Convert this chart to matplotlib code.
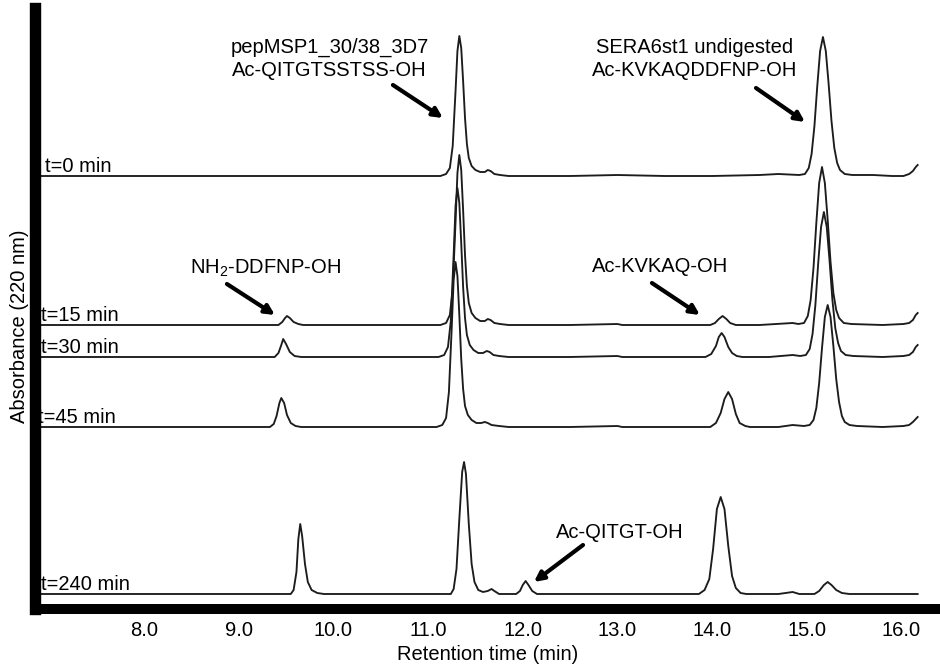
import numpy as np
import matplotlib
matplotlib.use("Agg")
import matplotlib.pyplot as plt

plt.rcParams['font.family'] = ['Liberation Sans', 'DejaVu Sans']
plt.rcParams['mathtext.fontset'] = 'custom'
plt.rcParams['mathtext.rm'] = 'Liberation Sans'

# retention time (min), absorbance above each trace's own baseline (arb. units)
trace_0min = [
    (6.92, 0), (8.0, 0), (9.5, 0), (10.5, 0), (11.13, 0), (11.19, 2), (11.23, 8), (11.26, 30),
    (11.29, 85), (11.31, 125), (11.33, 140), (11.35, 128), (11.37, 95), (11.39, 58), (11.41, 32),
    (11.43, 18), (11.46, 10), (11.50, 6), (11.55, 4), (11.60, 4), (11.63, 6), (11.66, 5),
    (11.70, 2), (11.76, 1), (11.85, 0), (12.5, 0), (13.0, 1), (13.5, 0), (14.0, 0), (14.5, 1),
    (14.7, 2), (14.92, 1), (14.98, 2), (15.02, 8), (15.05, 22), (15.08, 50), (15.11, 90),
    (15.14, 125), (15.17, 139), (15.20, 125), (15.23, 92), (15.26, 55), (15.29, 28), (15.32, 13),
    (15.35, 6), (15.40, 2), (15.48, 1), (15.7, 1), (15.9, 0), (16.02, 0), (16.08, 2), (16.12, 5),
    (16.15, 9), (16.17, 11),
]
trace_15min = [
    (6.92, 0), (8.0, 0), (9.0, 0), (9.42, 0), (9.46, 3), (9.49, 7), (9.51, 9), (9.54, 7),
    (9.58, 3), (9.63, 1), (9.68, 0), (10.5, 0), (11.13, 0), (11.19, 2), (11.23, 10), (11.26, 36),
    (11.29, 103), (11.31, 152), (11.33, 170), (11.35, 155), (11.37, 115), (11.39, 70), (11.41, 39),
    (11.43, 22), (11.46, 12), (11.50, 7), (11.55, 4), (11.60, 4), (11.63, 6), (11.66, 5),
    (11.70, 2), (11.76, 1), (11.85, 0), (12.5, 0), (13.0, 1), (13.05, 0), (13.5, 0), (13.98, 0),
    (14.03, 2), (14.07, 6), (14.11, 9), (14.15, 6), (14.19, 2), (14.25, 0), (14.5, 0), (14.85, 2),
    (14.91, 1), (14.97, 2), (15.01, 9), (15.04, 25), (15.07, 57), (15.10, 102), (15.13, 142),
    (15.16, 158), (15.19, 142), (15.22, 105), (15.25, 63), (15.28, 32), (15.31, 15), (15.34, 7),
    (15.39, 2), (15.47, 1), (15.8, 0), (16.02, 1), (16.08, 2), (16.12, 5), (16.15, 10), (16.17, 12),
]
trace_30min = [
    (6.92, 0), (8.0, 0), (9.0, 0), (9.38, 0), (9.42, 4), (9.45, 12), (9.47, 18), (9.50, 13),
    (9.54, 5), (9.59, 1), (9.66, 0), (10.5, 0), (11.11, 0), (11.17, 2), (11.21, 10), (11.24, 36),
    (11.27, 102), (11.29, 151), (11.31, 169), (11.33, 154), (11.35, 114), (11.37, 70), (11.39, 39),
    (11.41, 22), (11.44, 12), (11.48, 7), (11.53, 4), (11.58, 4), (11.62, 6), (11.65, 5),
    (11.69, 2), (11.75, 1), (11.85, 0), (12.5, 0), (13.0, 1), (13.05, 0), (13.5, 0), (13.93, 0),
    (13.99, 3), (14.04, 11), (14.07, 20), (14.10, 24), (14.13, 20), (14.17, 10), (14.21, 4),
    (14.26, 1), (14.32, 0), (14.6, 0), (14.85, 2), (14.93, 1), (14.99, 2), (15.03, 8), (15.06, 23),
    (15.09, 52), (15.12, 94), (15.15, 130), (15.18, 145), (15.21, 130), (15.24, 96), (15.27, 57),
    (15.30, 29), (15.33, 14), (15.36, 6), (15.41, 2), (15.49, 1), (15.8, 0), (16.02, 1),
    (16.08, 2), (16.12, 5), (16.15, 10), (16.17, 12),
]
trace_45min = [
    (6.92, 0), (8.0, 0), (9.0, 0), (9.33, 0), (9.37, 3), (9.40, 11), (9.43, 24), (9.45, 29),
    (9.48, 24), (9.51, 12), (9.55, 4), (9.60, 1), (9.66, 0), (10.5, 0), (11.09, 0), (11.15, 2),
    (11.19, 9), (11.22, 35), (11.25, 100), (11.27, 147), (11.29, 165), (11.31, 151), (11.33, 112),
    (11.35, 68), (11.37, 38), (11.39, 21), (11.42, 12), (11.46, 7), (11.51, 4), (11.56, 4),
    (11.60, 5), (11.63, 4), (11.67, 2), (11.75, 1), (11.85, 0), (12.5, 0), (13.0, 1), (13.05, 0),
    (13.5, 0), (13.98, 0), (14.04, 4), (14.09, 14), (14.13, 28), (14.17, 35), (14.21, 28),
    (14.25, 13), (14.29, 4), (14.35, 1), (14.40, 0), (14.7, 0), (14.85, 2), (14.97, 1),
    (15.03, 2), (15.07, 7), (15.10, 19), (15.13, 44), (15.16, 79), (15.19, 110), (15.22, 122),
    (15.25, 110), (15.28, 81), (15.31, 48), (15.34, 25), (15.37, 11), (15.40, 5), (15.45, 2),
    (15.53, 1), (15.8, 0), (16.02, 1), (16.08, 2), (16.12, 5), (16.15, 8), (16.17, 10),
]
trace_240min = [
    (6.92, 0), (8.0, 0), (9.0, 0), (9.55, 0), (9.58, 4), (9.61, 22), (9.63, 55), (9.65, 70),
    (9.67, 58), (9.70, 30), (9.73, 12), (9.77, 4), (9.83, 1), (9.90, 0), (10.5, 0), (11.24, 0),
    (11.27, 5), (11.30, 25), (11.33, 75), (11.36, 122), (11.38, 132), (11.40, 120), (11.43, 70),
    (11.46, 30), (11.49, 12), (11.53, 4), (11.58, 2), (11.63, 3), (11.67, 5), (11.70, 3),
    (11.75, 0), (11.93, 0), (11.97, 3), (12.00, 9), (12.03, 13), (12.06, 9), (12.10, 3),
    (12.15, 0), (13.0, 0), (13.5, 0), (13.86, 0), (13.92, 4), (13.97, 15), (14.01, 45),
    (14.05, 85), (14.09, 97), (14.13, 85), (14.17, 48), (14.21, 18), (14.25, 6), (14.30, 1),
    (14.36, 0), (14.7, 0), (14.85, 2), (14.92, 0), (15.08, 0), (15.13, 3), (15.18, 9),
    (15.22, 12), (15.26, 9), (15.31, 4), (15.37, 1), (15.45, 0), (16.17, 0),
]

traces = [trace_0min, trace_15min, trace_30min, trace_45min, trace_240min]
trace_labels = ['t=0 min', 't=15 min', 't=30 min', 't=45 min', 't=240 min']
trace_offsets = [433, 284, 252, 182, 15]

xticks = [8.0, 9.0, 10.0, 11.0, 12.0, 13.0, 14.0, 15.0, 16.0]
xtick_labels = ['8.0', '9.0', '10.0', '11.0', '12.0', '13.0', '14.0', '15.0', '16.0']

fig = plt.figure(figsize=(9.4, 6.66), dpi=100)
ax = fig.add_axes([35 / 940, 57 / 666, 905 / 940, 601 / 666])

label_x = [6.955, 6.915, 6.915, 6.88, 6.915]
for tr, lab, off, lx in zip(traces, trace_labels, trace_offsets, label_x):
    arr = np.array(tr, dtype=float)
    ax.plot(arr[:, 0], arr[:, 1] + off, color='#1c1c1c', lw=1.35)
    ax.text(lx, off + 4, lab, fontsize=14.5, ha='left', va='baseline', zorder=2)

ax.set_xlim(6.849, 16.406)
ax.set_ylim(0, 601)

fs = 14.5
arrow = dict(arrowstyle='-|>', color='black', lw=3, mutation_scale=14,
             shrinkA=0, shrinkB=0)

ax.text(9.96, 550, 'pepMSP1_30/38_3D7\nAc-QITGTSSTSS-OH', fontsize=fs,
        ha='center', va='center', linespacing=1.3)
ax.annotate('', xy=(11.157, 491), xytext=(10.629, 524), arrowprops=arrow)

ax.text(13.81, 550, 'SERA6st1 undigested\nAc-KVKAQDDFNP-OH', fontsize=fs,
        ha='center', va='center', linespacing=1.3)
ax.annotate('', xy=(14.98, 487), xytext=(14.463, 521), arrowprops=arrow)

ax.text(9.28, 341, r'NH$_\mathregular{2}$-DDFNP-OH', fontsize=fs, ha='center', va='center')
ax.annotate('', xy=(9.383, 294), xytext=(8.876, 325), arrowprops=arrow)

ax.text(13.45, 342, 'Ac-KVKAQ-OH', fontsize=fs, ha='center', va='center')
ax.annotate('', xy=(13.871, 294), xytext=(13.364, 326), arrowprops=arrow)

ax.text(13.02, 77, 'Ac-QITGT-OH', fontsize=fs, ha='center', va='center')
ax.annotate('', xy=(12.118, 27), xytext=(12.636, 64), arrowprops=arrow)

for s in ['top', 'right']:
    ax.spines[s].set_visible(False)
ax.spines['left'].set_linewidth(8.2)
ax.spines['bottom'].set_linewidth(7.2)
ax.spines['bottom'].set_capstyle('projecting')

ax.set_xticks(xticks)
ax.set_xticklabels(xtick_labels)
ax.set_yticks([])
ax.tick_params(axis='x', length=0, pad=9, labelsize=fs)

ax.set_xlabel('Retention time (min)', fontsize=fs, labelpad=3)
ax.set_ylabel('Absorbance (220 nm)', fontsize=fs)
ax.yaxis.set_label_coords(-0.007, 0.47)

fig.savefig('out.png', dpi=100)
